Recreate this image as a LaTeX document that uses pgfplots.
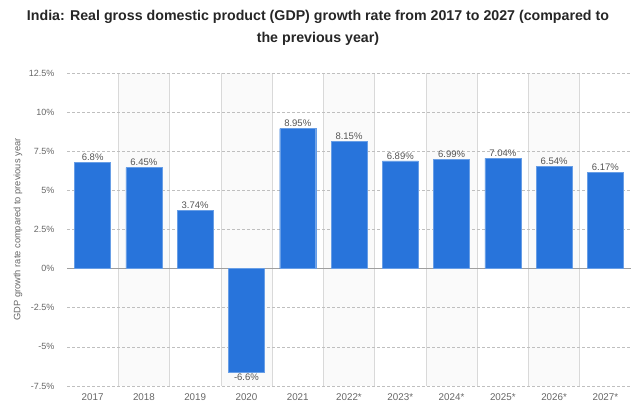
\documentclass[border=0pt]{standalone}
\usepackage{fontspec}
\setmainfont{Liberation Sans}
\usepackage{pgfplots}
\pgfplotsset{compat=1.18}
\definecolor{barblue}{HTML}{2874DB}
\definecolor{ticktxt}{HTML}{666666}
\definecolor{lbltxt}{HTML}{555555}
\begin{document}
\begin{tikzpicture}
\begin{axis}[
  set layers,
  at={(67pt,21pt)}, anchor=south west,
  scale only axis, width=564pt, height=313pt,
  xmin=-0.5, xmax=10.5, ymin=-7.5, ymax=12.5,
  axis line style={draw=none},
  major tick length=0pt, minor tick length=0pt,
  xtick={0,1,2,3,4,5,6,7,8,9,10},
  xticklabels={2017,2018,2019,2020,2021,2022*,2023*,2024*,2025*,2026*,2027*},
  minor xtick={0.5,1.5,2.5,3.5,4.5,5.5,6.5,7.5,8.5,9.5},
  xminorgrids, minor grid style={solid, gray!30, line width=0.5pt},
  ytick={-7.5,-5,-2.5,0,2.5,5,7.5,10,12.5},
  yticklabels={-7.5\%,-5\%,-2.5\%,0\%,2.5\%,5\%,7.5\%,10\%,12.5\%},
  ymajorgrids, major grid style={densely dashed, gray!50, line width=0.6pt},
  tick label style={text=ticktxt},
  xticklabel style={yshift=-4pt, font=\fontsize{9.8}{11}\selectfont},
  yticklabel style={xshift=-9pt, font=\fontsize{9}{11}\selectfont},
  ylabel={GDP growth rate compared to previous year},
  ylabel style={at={(axis description cs:-0.087,0.5)}, anchor=center, rotate=0, font=\fontsize{9.3}{11}\selectfont, text=ticktxt},
  clip=false,
]
\begin{pgfonlayer}{axis background}
\fill[gray!4] (axis cs:0.5,-7.5) rectangle (axis cs:1.5,12.5);
\fill[gray!4] (axis cs:2.5,-7.5) rectangle (axis cs:3.5,12.5);
\fill[gray!4] (axis cs:4.5,-7.5) rectangle (axis cs:5.5,12.5);
\fill[gray!4] (axis cs:6.5,-7.5) rectangle (axis cs:7.5,12.5);
\fill[gray!4] (axis cs:8.5,-7.5) rectangle (axis cs:9.5,12.5);
\end{pgfonlayer}
\draw[gray!75, line width=1.2pt] (axis cs:-0.5,0) -- (axis cs:10.5,0);
\addplot[ybar, bar width=36pt, fill=barblue, draw=barblue!70!white, line width=0.4pt,
  nodes near coords={\pgfmathprintnumber[assume math mode=true]{\pgfplotspointmeta}\%},
  every node near coord/.append style={font=\fontsize{9.5}{11}\selectfont, text=lbltxt, inner sep=1.5pt}]
coordinates {(0,6.8) (1,6.45) (2,3.74) (3,-6.6) (4,8.95) (5,8.15) (6,6.89) (7,6.99) (8,7.04) (9,6.54) (10,6.17)};
\end{axis}
\node[align=center, font=\bfseries\fontsize{14.2}{22}\selectfont, text=black!85] at (318pt,379pt) {India: Real gross domestic product (GDP) growth rate from 2017 to 2027 (compared to\\the previous year)};
\pgfresetboundingbox
\path (0,0) rectangle (631pt,407pt);
\end{tikzpicture}
\end{document}
